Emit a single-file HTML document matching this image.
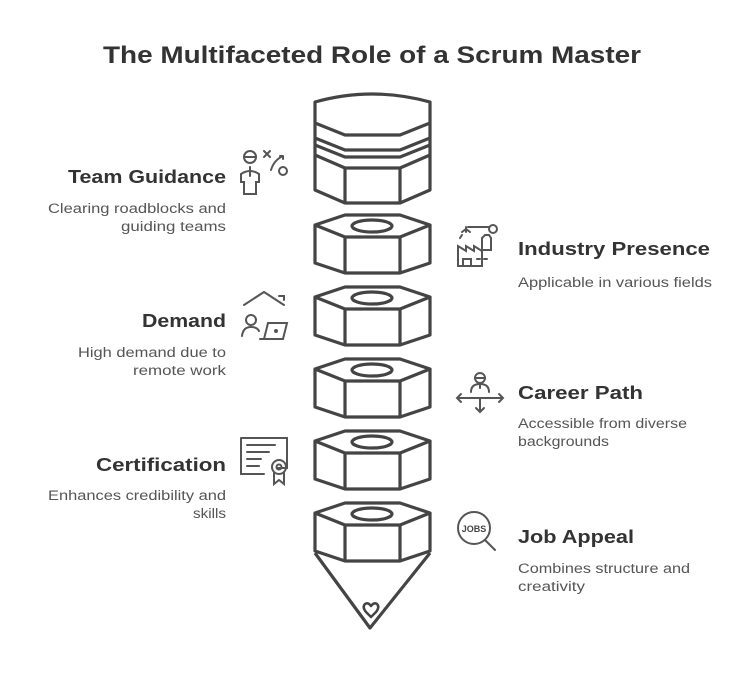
<!DOCTYPE html>
<html><head><meta charset="utf-8"><style>
html,body{margin:0;padding:0;background:#fff;}
body{width:732px;height:677px;overflow:hidden;position:relative;font-family:"Liberation Sans",sans-serif;}
</style></head><body>
<svg width="732" height="677" viewBox="0 0 732 677" xmlns="http://www.w3.org/2000/svg" style="position:absolute;left:0;top:0">
<defs>
<g id="nut" fill="none" stroke="#444" stroke-width="3.2" stroke-linejoin="round">
<path d="M315,10 L345,0 L400,0 L430,10 L400,22 L345,22 Z"/>
<path d="M315,10 L315,48 L345,58 L400,58 L430,48 L430,10"/>
<path d="M345,22 L345,58 M400,22 L400,58"/>
<ellipse cx="372" cy="11" rx="20" ry="6"/>
</g>
</defs>
<text x="103" y="63" textLength="538" lengthAdjust="spacingAndGlyphs" font-family="Liberation Sans, sans-serif" font-weight="bold" font-size="24" fill="#333">The Multifaceted Role of a Scrum Master</text>

<g fill="none" stroke="#444" stroke-width="3.2" stroke-linejoin="round">
<path d="M315,123 L315,102 Q372,86 430,102 L430,123 L400,135 L345,135 Z"/>
<path d="M315,138 L345,150 L400,150 L430,138"/>
<path d="M315,145 L345,157 L400,157 L430,145"/>
<path d="M315,155 L345,168 L400,168 L430,155"/>
<path d="M315,123 L315,190 L345,203 L400,203 L430,190 L430,123"/>
<path d="M345,168 L345,203 M400,168 L400,203"/>
<path d="M315,553 L370,628 L430,553"/>
<path d="M366,612 q-4,-5 -1,-8 q3,-2 6,2 q3,-4 6,-2 q3,3 -1,8 l-5,5 z" stroke-width="2.5"/>
</g>
<use href="#nut" y="215"/>
<use href="#nut" y="287"/>
<use href="#nut" y="359"/>
<use href="#nut" y="431"/>
<use href="#nut" y="503"/>

<g fill="none" stroke="#555" stroke-width="2" stroke-linecap="round">
<circle cx="250" cy="157" r="6"/><path d="M244,157 h12"/>
<path d="M244,194 v-12 h-3 v-8 q9,-6 18,0 v8 h-3 v12 z M250,167 v9"/>
<path d="M264,151 l6,6 M270,151 l-6,6"/><path d="M271,170 q3,-10 12,-14 l-3,0 m3,0 l0,3"/><circle cx="283" cy="171" r="4"/>
<path d="M244,305 l20,-13 l20,13 M279,296 h5 v4"/>
<circle cx="251" cy="320" r="5"/><path d="M242,336 q1,-9 9,-9 q6,0 8,4"/>
<path d="M260,339 h23 l4,-16 h-19 l-4,16"/><circle cx="276" cy="331" r="1"/>
<path d="M241,438 h46 v30 h-10 M262,474 h-21 v-36"/>
<path d="M247,445 h28 M247,452 h22 M247,459 h14 M247,466 h12 M250,474 h14"/>
<circle cx="279" cy="467" r="7"/><circle cx="279" cy="467" r="2.5"/><path d="M274,473 v11 l5,-4 l5,4 v-11"/>
<path d="M458,266 v-20 l8,5 v-5 l8,5 v-5 l8,5 v15 z M463,266 v-7 h8 v7 M477,259 h3 M484,259 h3 M482,250 v-12 l3,-3 h4 l2,3 v12 h-9"/>
<circle cx="493" cy="229" r="4"/><path d="M468,227 h21 M466,227 v5 M462,232 l4,-3 l4,3 M462,235 l-2,3"/>
<circle cx="480" cy="378" r="5"/><path d="M475,378 h10 M471,392 q0,-8 9,-8 q9,0 9,8 M480,384 v4"/>
<path d="M457,398 h46 M461,394 l-4,4 l4,4 M499,394 l4,4 l-4,4 M480,398 v14 M476,408 l4,4 l4,-4"/>
<circle cx="474" cy="528" r="16"/><path d="M485,540 l10,10"/>
</g>
<text x="474" y="532" text-anchor="middle" font-size="9" font-weight="bold" fill="#444">JOBS</text>

<g font-family="Liberation Sans, sans-serif" fill="#333" lengthAdjust="spacingAndGlyphs">
<g font-weight="bold" font-size="18">
<text x="68" y="183" textLength="158" lengthAdjust="spacingAndGlyphs">Team Guidance</text>
<text x="142" y="327" textLength="84" lengthAdjust="spacingAndGlyphs">Demand</text>
<text x="96" y="471" textLength="130" lengthAdjust="spacingAndGlyphs">Certification</text>
<text x="518" y="255" textLength="192" lengthAdjust="spacingAndGlyphs">Industry Presence</text>
<text x="518" y="399" textLength="125" lengthAdjust="spacingAndGlyphs">Career Path</text>
<text x="518" y="543" textLength="116" lengthAdjust="spacingAndGlyphs">Job Appeal</text>
</g>
<g font-size="13.5" fill="#555">
<text x="48" y="213" textLength="178" lengthAdjust="spacingAndGlyphs">Clearing roadblocks and</text>
<text x="121" y="231" textLength="105" lengthAdjust="spacingAndGlyphs">guiding teams</text>
<text x="78" y="357" textLength="148" lengthAdjust="spacingAndGlyphs">High demand due to</text>
<text x="133" y="375" textLength="93" lengthAdjust="spacingAndGlyphs">remote work</text>
<text x="48" y="500" textLength="178" lengthAdjust="spacingAndGlyphs">Enhances credibility and</text>
<text x="193" y="518" textLength="33" lengthAdjust="spacingAndGlyphs">skills</text>
<text x="518" y="287" textLength="194" lengthAdjust="spacingAndGlyphs">Applicable in various fields</text>
<text x="518" y="428" textLength="169" lengthAdjust="spacingAndGlyphs">Accessible from diverse</text>
<text x="518" y="446" textLength="91" lengthAdjust="spacingAndGlyphs">backgrounds</text>
<text x="518" y="573" textLength="172" lengthAdjust="spacingAndGlyphs">Combines structure and</text>
<text x="518" y="591" textLength="67" lengthAdjust="spacingAndGlyphs">creativity</text>
</g>
</g>
</svg>
</body></html>
